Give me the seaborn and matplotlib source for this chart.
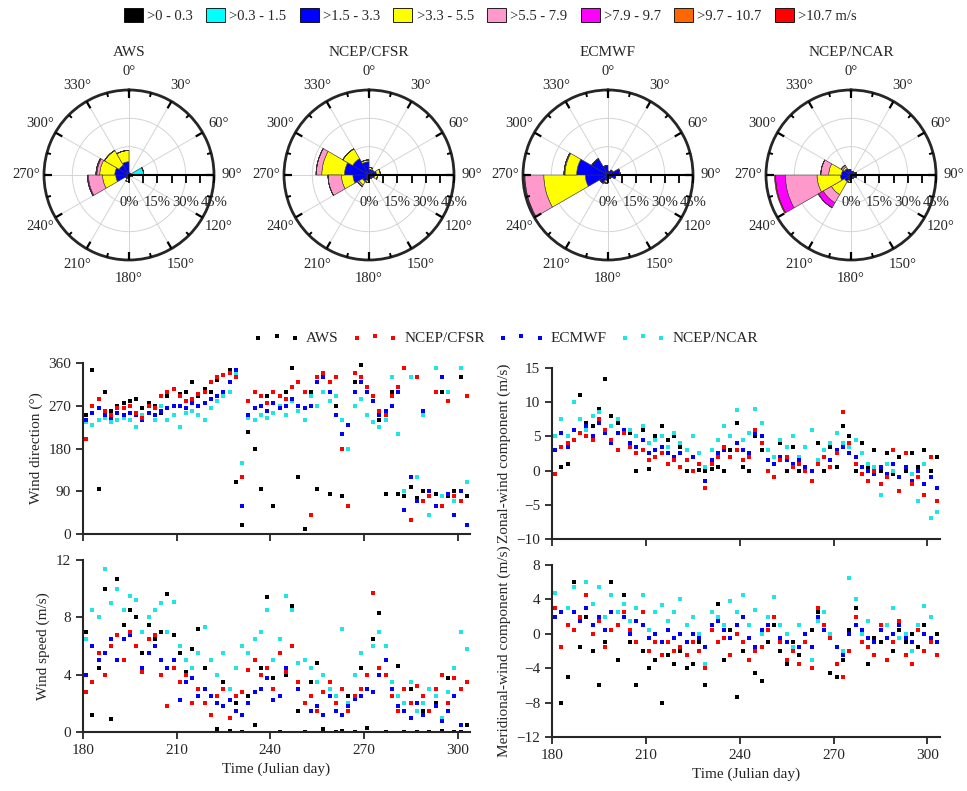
import numpy as np
import matplotlib
matplotlib.use("Agg")
import matplotlib.pyplot as plt
import matplotlib.transforms as mtransforms
from matplotlib.patches import Patch
import seaborn as sns

sns.set_style("ticks")
plt.rcParams["font.family"] = ["Liberation Serif", "DejaVu Serif"]
plt.rcParams["font.size"] = 11
plt.rcParams["axes.linewidth"] = 1.5

# ---- wind rose data (% of time per 30 deg sector and speed class) ----
class_labels = [">0 - 0.3", ">0.3 - 1.5", ">1.5 - 3.3", ">3.3 - 5.5",
                ">5.5 - 7.9", ">7.9 - 9.7", ">9.7 - 10.7", ">10.7 m/s"]
class_colors = ["#000000", "#00ffff", "#0000ff", "#ffff00",
                "#ff99cc", "#ff00ff", "#ff6600", "#ff0000"]
sector_deg = [15, 45, 75, 105, 135, 165, 195, 225, 255, 285, 315, 345]
rose_titles = ["AWS", "NCEP/CFSR", "ECMWF", "NCEP/NCAR"]

rose_aws = [[0.2, 0.3, 0.5], [0.2, 0.3, 0.5], [0.5, 7.3], [0.3, 1.5],
            [0.3, 0.7], [0.3, 0.7], [0.3, 0.7, 1.0, 1.5], [0.3, 0.7, 1.0],
            [0.3, 0.7, 6.0, 7.0, 7.5, 0.5], [0.3, 0.7, 6.5, 8.0, 1.5, 0.5],
            [0.3, 0.7, 5.0, 9.0], [0.2, 0.6, 6.2, 6.0]]
rose_cfsr = [[0.3, 0.5, 2.2, 1.0], [0.3, 0.5, 2.2], [0.3, 0.5, 3.2, 2.0],
             [0.3, 0.5, 2.2, 1.5], [0.3, 0.5, 1.2], [0.3, 0.5, 1.2],
             [0.3, 0.5, 2.2, 1.0], [0.3, 0.5, 3.2, 2.0, 1.0],
             [0.3, 0.5, 7.7, 6.1, 7.1], [0.3, 0.5, 12.2, 12.0, 3.0],
             [0.3, 0.5, 9.2, 6.0], [0.3, 0.5, 6.2, 1.0]]
rose_ecmwf = [[0.3, 0.5, 1.2], [0.3, 0.7, 2.0], [0.3, 1.0, 5.1], [0.3, 1.0, 2.7],
              [0.3, 0.5, 1.2], [0.3, 0.5, 1.2], [0.3, 0.5, 2.2, 1.0, 0.5],
              [0.3, 0.5, 4.2], [0.3, 0.5, 11.2, 22.0, 10.0, 0.3],
              [0.3, 0.5, 15.8, 6.2, 0.5], [0.3, 0.5, 9.2], [0.3, 0.5, 4.2]]
rose_ncar = [[0.3, 0.5, 1.2], [0.3, 0.5, 1.2], [0.3, 0.5, 2.2], [0.3, 0.5, 2.2],
             [0.3, 0.5, 1.2], [0.3, 0.5, 1.2], [0.3, 0.5, 2.2, 1.0],
             [0.3, 0.5, 3.2, 8.0, 5.0, 3.0],
             [0.3, 0.5, 4.8, 12.4, 16.8, 5.2, 0.0, 0.5],
             [0.3, 0.5, 4.2, 6.8, 4.2], [0.3, 0.5, 3.2, 1.0, 1.0], [0.3, 0.5, 2.2]]
rose_data = [rose_aws, rose_cfsr, rose_ecmwf, rose_ncar]
r_labels = [0, 15, 30, 45]
r_ticks = [0, 7.5, 15, 22.5, 30, 37.5, 45]

# ---- time series (Julian day) ----
days = [181, 183, 185, 187, 189, 191, 193, 195, 197, 199,
        201, 203, 205, 207, 209, 211, 213, 215, 217, 219,
        221, 223, 225, 227, 229, 231, 233, 235, 237, 239,
        241, 243, 245, 247, 249, 251, 253, 255, 257, 259,
        261, 263, 265, 267, 269, 271, 273, 275, 277, 279,
        281, 283, 285, 287, 289, 291, 293, 295, 297, 299,
        301, 303]

dir_aws = [250, 345, 95, 300, 260, 270, 275, 280, 285, 265,
           275, 270, 255, 290, 270, 295, 300, 320, 290, 305,
           300, 325, 335, 345, 110, 20, 215, 180, 95, 290,
           60, 270, 300, 350, 120, 10, 300, 95, 340, 85,
           270, 80, 60, 320, 355, 310, 280, 240, 85, 300,
           85, 80, 100, 75, 90, 80, 85, 300, 80, 90,
           330, 80]
dir_cfsr = [200, 270, 285, 260, 250, 265, 265, 270, 255, 245,
            270, 265, 290, 300, 305, 290, 280, 285, 295, 300,
            320, 330, 335, 340, 330, 120, 280, 300, 290, 275,
            300, 290, 285, 310, 320, 300, 40, 330, 340, 320,
            330, 180, 60, 340, 330, 310, 290, 260, 250, 290,
            310, 350, 30, 330, 70, 80, 300, 60, 280, 80,
            70, 290]
dir_ecmwf = [240, 255, 265, 250, 245, 255, 250, 255, 250, 240,
             255, 250, 260, 265, 270, 270, 265, 275, 270, 275,
             285, 290, 300, 320, 345, 60, 250, 265, 270, 260,
             275, 265, 270, 285, 270, 265, 270, 320, 330, 300,
             250, 210, 230, 300, 320, 300, 280, 250, 260, 270,
             300, 50, 120, 70, 260, 90, 60, 330, 85, 40,
             90, 20]
dir_ncar = [235, 230, 240, 245, 235, 240, 245, 240, 225, 250,
            255, 240, 270, 240, 250, 225, 255, 260, 250, 240,
            265, 280, 290, 300, 340, 150, 245, 240, 250, 245,
            255, 270, 250, 280, 260, 240, 290, 270, 300, 280,
            290, 240, 180, 270, 285, 250, 235, 225, 240, 330,
            210, 90, 330, 120, 250, 40, 350, 80, 300, 70,
            350, 110]

spd_aws = [7.0, 1.2, 4.5, 10.0, 0.9, 10.7, 7.5, 8.5, 8.0, 5.5,
           7.5, 6.5, 7.0, 9.6, 6.8, 5.5, 4.2, 5.8, 7.2, 4.5,
           5.0, 0.2, 3.5, 0.1, 2.0, 0.0, 2.5, 0.5, 4.5, 9.4,
           3.8, 0.0, 4.0, 8.8, 1.5, 0.0, 3.5, 4.8, 0.2, 2.5,
           0.0, 0.1, 2.5, 0.0, 4.5, 0.3, 6.5, 8.3, 0.0, 3.5,
           4.6, 0.0, 3.0, 0.0, 1.5, 0.0, 2.0, 0.1, 3.8, 0.0,
           0.0, 0.5]
spd_cfsr = [2.8, 3.5, 5.5, 4.0, 6.0, 6.8, 5.0, 7.0, 6.0, 4.2,
            6.5, 6.8, 4.0, 1.8, 4.5, 3.5, 4.0, 2.0, 3.0, 2.0,
            1.2, 2.5, 3.0, 1.0, 2.5, 2.8, 4.3, 5.0, 4.0, 4.5,
            3.0, 5.5, 4.2, 6.0, 3.5, 2.0, 2.5, 1.5, 2.8, 3.5,
            2.0, 3.0, 1.5, 2.5, 3.0, 4.0, 9.7, 4.5, 4.0, 2.5,
            1.5, 3.0, 2.0, 3.2, 2.5, 1.5, 3.0, 4.0, 2.0, 3.8,
            3.0, 3.5]
spd_ecmwf = [4.0, 6.0, 5.0, 5.5, 6.5, 5.0, 6.5, 6.8, 6.0, 4.5,
             5.5, 6.0, 5.0, 4.5, 5.0, 2.2, 3.5, 3.8, 2.5, 3.0,
             2.5, 2.0, 1.8, 2.2, 1.5, 1.2, 2.0, 2.8, 3.0, 3.8,
             2.2, 2.5, 4.5, 6.0, 3.0, 2.0, 1.5, 1.8, 1.2, 2.5,
             1.5, 1.2, 1.8, 2.3, 2.5, 3.0, 2.8, 4.0, 5.0, 3.0,
             1.8, 1.5, 1.0, 2.0, 1.2, 1.5, 1.8, 0.8, 1.5, 2.5,
             0.5, 3.5]
spd_ncar = [6.5, 8.5, 8.0, 11.4, 9.0, 10.0, 8.5, 9.5, 9.2, 7.0,
            8.0, 8.5, 9.0, 7.0, 9.1, 6.0, 5.0, 4.5, 5.5, 7.3,
            5.0, 4.0, 5.5, 3.0, 4.5, 6.0, 5.5, 6.5, 7.0, 8.5,
            5.0, 6.5, 9.5, 8.5, 4.8, 5.0, 4.5, 3.5, 4.0, 3.0,
            2.5, 7.2, 2.0, 4.0, 5.5, 4.0, 6.0, 7.0, 6.0, 3.5,
            2.5, 2.0, 3.5, 1.5, 2.0, 3.0, 2.5, 1.0, 2.8, 4.5,
            7.0, 5.8]

u_aws = [5.0, 0.5, 1.0, 6.0, 11.0, 7.0, 6.5, 9.0, 13.4, 8.0,
         7.0, 6.0, 5.5, 0.0, 6.0, 0.3, 5.0, 6.5, 4.5, 5.0,
         3.5, 0.0, 2.0, 0.1, 0.0, 0.2, 0.5, 0.0, 3.0, 7.0,
         0.5, 0.0, 5.0, 3.0, 0.0, 1.0, 4.0, 0.0, 3.5, 0.0,
         0.2, 0.0, 4.0, 0.0, 3.5, 0.5, 6.5, 5.0, 0.0, 4.0,
         0.5, 3.0, 0.0, 2.5, -0.5, 2.0, 0.0, 2.5, 0.5, 3.0,
         0.0, 2.0]
u_cfsr = [-0.5, 3.5, 4.0, 4.5, 5.5, 5.0, 4.5, 7.5, 6.0, 4.5,
          3.0, 5.5, 3.5, 2.5, 3.0, 1.5, 2.0, 2.5, 1.0, 1.5,
          0.5, 1.5, 0.0, 1.0, -2.5, 1.0, 2.0, 3.5, 2.0, 3.0,
          1.5, 2.0, 6.0, 4.0, 0.0, -1.0, 1.5, 2.0, 0.5, 1.0,
          0.0, -1.5, 1.0, 2.0, 0.5, 2.5, 8.5, 4.0, 1.0, -0.5,
          -1.5, 0.0, -2.0, -1.0, 3.0, -3.0, 2.5, -2.0, -1.0, -3.5,
          2.0, -4.5]
u_ecmwf = [3.0, 5.5, 3.5, 6.0, 5.5, 6.5, 5.0, 7.0, 5.5, 4.0,
           5.5, 6.0, 4.0, 3.5, 4.5, 2.5, 3.0, 3.5, 2.5, 2.0,
           2.5, 1.5, 2.0, 1.0, -1.5, 1.5, 2.5, 3.0, 2.0, 4.0,
           3.0, 2.5, 5.5, 5.0, 1.5, 1.0, 2.0, 1.5, 1.0, 1.5,
           0.5, 0.0, 1.0, 2.0, 1.5, 3.0, 3.5, 2.5, 2.0, 0.5,
           0.0, -0.5, 0.5, -0.5, 1.0, -1.0, 0.5, -1.5, 0.0, -2.0,
           -1.0, -2.5]
u_ncar = [5.0, 7.5, 5.0, 10.0, 7.5, 6.0, 8.0, 8.5, 6.0, 6.5,
          7.5, 5.5, 6.0, 5.0, 6.5, 4.0, 4.5, 5.0, 3.5, 5.5,
          4.0, 3.0, 5.0, 2.5, 0.5, 3.0, 4.5, 6.5, 5.0, 8.8,
          4.5, 5.5, 9.0, 7.0, 3.0, 2.0, 4.5, 3.5, 5.0, 2.0,
          3.5, 6.0, 1.5, 3.0, 4.0, 5.5, 4.0, 3.5, 4.5, 2.5,
          1.0, 0.5, -3.5, 1.0, 0.0, -1.0, 2.5, -0.5, -4.5, 1.0,
          -7.0, -6.0]

v_aws = [2.0, -8.0, -5.0, 6.0, -1.5, 2.0, -2.0, -6.0, -1.0, 6.0,
         -3.0, 4.5, -1.0, -6.0, -2.0, -4.0, -3.0, -8.0, -2.5, -3.5,
         -2.0, -4.0, -3.5, -1.0, -6.0, 1.0, 3.5, -3.0, 0.5, -7.3,
         -2.0, -3.0, -4.5, -5.5, -1.0, 1.0, -2.0, -3.5, -1.0, -2.5,
         -1.0, 0.5, 2.5, 1.0, -4.5, -5.0, -3.0, 0.5, 3.0, 0.0,
         -3.5, -0.5, -1.0, 1.0, -2.0, 0.5, -1.0, 0.0, -1.5, 1.0,
         -1.0, 0.0]
v_cfsr = [3.0, -1.5, 1.0, 0.5, 2.0, 4.5, 0.0, 1.5, -1.5, 0.5,
          1.0, 2.5, 0.5, -1.0, 2.5, -2.0, -1.0, -2.5, -1.0, -2.0,
          -1.5, -2.5, -1.0, -2.0, -4.0, 0.5, -1.0, -0.5, -2.5, 0.0,
          -1.0, -3.0, -2.0, -1.5, 0.5, 2.0, -1.0, -3.0, -2.0, -3.5,
          -1.0, -4.0, 3.0, 1.0, -0.5, -3.5, -5.0, -2.0, 2.0, -1.0,
          -1.5, -2.5, 1.0, -3.0, -1.0, 1.5, -2.5, -3.5, 0.5, -2.0,
          -1.0, -2.5]
v_ecmwf = [2.0, 2.5, 1.0, 2.5, 1.5, 3.0, 1.0, 2.0, 0.5, 2.5,
           1.0, 2.0, 0.0, 1.5, 1.0, -0.5, 0.0, -1.0, 0.5, -0.5,
           0.0, -1.0, 0.0, -0.5, -1.5, 1.0, 1.5, 0.5, -0.5, 1.0,
           2.0, -0.5, -1.5, 0.5, 1.0, 2.0, -0.5, -1.0, -2.0, -1.5,
           0.0, -1.5, 2.0, 0.5, -0.5, -1.5, -2.5, 0.0, 1.0, 0.5,
           -0.5, -1.0, 0.5, -0.5, 0.0, 1.0, -0.5, -1.0, 0.5, 0.0,
           -0.5, -1.0]
v_ncar = [4.8, 2.5, 3.0, 5.5, 2.0, 6.0, 3.5, 5.5, 2.0, 4.5,
          2.5, 3.5, 1.5, 3.0, 4.5, 0.5, 2.5, 3.3, 1.5, 2.5,
          4.0, 1.0, 2.0, 0.0, -3.5, 2.5, 2.0, 1.0, 3.8, 2.5,
          4.5, 1.0, 2.8, 0.0, 2.0, 4.3, 1.0, 0.0, -1.5, 1.0,
          -1.0, -3.0, 1.5, 2.5, 0.0, -1.5, -2.0, 6.5, 4.0, 0.0,
          1.5, -1.0, 0.5, 1.0, 3.0, -0.5, 0.0, -2.0, 1.0, 3.2,
          2.0, -2.5]

series_names = ["AWS", "NCEP/CFSR", "ECMWF", "NCEP/NCAR"]
series_colors = {"AWS": "black", "NCEP/CFSR": "red", "ECMWF": "blue", "NCEP/NCAR": "#1ee6e6"}
draw_order = ["AWS", "NCEP/NCAR", "ECMWF", "NCEP/CFSR"]

W, H = 967, 791
fig = plt.figure(figsize=(W / 100, H / 100), dpi=100)


def px_axes(x0, y0, x1, y1, **kw):
    return fig.add_axes([x0 / W, 1 - y1 / H, (x1 - x0) / W, (y1 - y0) / H], **kw)


# ---- wind roses ----
rose_cx = [129, 369, 608, 851]
R = 85
width = np.deg2rad(30)
theta = np.deg2rad(sector_deg)
major_t = np.deg2rad(np.arange(0, 360, 30))
minor_t = np.deg2rad(np.arange(15, 360, 30))
for cx, title, table in zip(rose_cx, rose_titles, rose_data):
    ax = px_axes(cx - R, 175 - R, cx + R, 175 + R, projection="polar")
    ax.set_theta_zero_location("N")
    ax.set_theta_direction(-1)
    ax.set_axisbelow(True)
    rows = np.array([row + [0] * (8 - len(row)) for row in table])
    bottom = np.zeros(len(sector_deg))
    for k in range(8):
        ax.bar(theta, rows[:, k], width=width, bottom=bottom, color=class_colors[k],
               edgecolor="#333333", linewidth=0.4, zorder=3)
        bottom += rows[:, k]
    ax.set_ylim(0, 45)
    ax.set_yticks([15, 30])
    ax.set_yticklabels([])
    ax.set_xticks(major_t)
    ax.set_xticklabels([f"{d}°" for d in range(0, 360, 30)], fontsize=10.5)
    ax.tick_params(axis="x", length=0, pad=6)
    ax.grid(True, color="#d4d4d4", linewidth=0.7)
    ax.spines["polar"].set_linewidth(2)
    # inward tick marks on the outer circle
    ax.vlines(major_t, 45 - 4.2, 45, color="black", lw=1.6, zorder=4)
    ax.vlines(minor_t, 45 - 2.2, 45, color="black", lw=1.4, zorder=4)
    ax.plot([np.pi / 2, np.pi / 2], [0, 45], color="black", lw=1.5, zorder=4)
    ax.plot([np.pi / 2] * len(r_ticks), r_ticks, ls="none", marker=3, ms=6,
            mew=1.3, color="black", zorder=4, clip_on=False)
    off = mtransforms.ScaledTranslation(0, -0.28, fig.dpi_scale_trans)
    for r in r_labels:
        ax.text(np.pi / 2, r, f"{r}%", transform=ax.transData + off,
                ha="center", va="center", fontsize=10.5)
    ax.text(0.5, 1 + 38 / (2 * R), title, transform=ax.transAxes,
            ha="center", va="center", fontsize=11)

rose_handles = [Patch(facecolor=c, edgecolor="black", linewidth=0.6) for c in class_colors]
fig.legend(rose_handles, class_labels, loc="center", bbox_to_anchor=(0.507, 0.981),
           ncol=8, frameon=False, handlelength=1.3, handleheight=1.1,
           handletextpad=0.3, columnspacing=0.9, fontsize=10.5)

# ---- time series panels ----
panels = [
    (px_axes(83, 363, 470, 534), {"AWS": dir_aws, "NCEP/CFSR": dir_cfsr, "ECMWF": dir_ecmwf, "NCEP/NCAR": dir_ncar},
     (0, 360), [0, 90, 180, 270, 360], "Wind direction (°)", False),
    (px_axes(83, 560, 470, 732), {"AWS": spd_aws, "NCEP/CFSR": spd_cfsr, "ECMWF": spd_ecmwf, "NCEP/NCAR": spd_ncar},
     (0, 12), [0, 4, 8, 12], "Wind speed (m/s)", True),
    (px_axes(552, 368, 940, 539), {"AWS": u_aws, "NCEP/CFSR": u_cfsr, "ECMWF": u_ecmwf, "NCEP/NCAR": u_ncar},
     (-10, 15), [-10, -5, 0, 5, 10, 15], "Zonal-wind component (m/s)", False),
    (px_axes(552, 565, 940, 737), {"AWS": v_aws, "NCEP/CFSR": v_cfsr, "ECMWF": v_ecmwf, "NCEP/NCAR": v_ncar},
     (-12, 8), [-12, -8, -4, 0, 4, 8], "Meridional-wind component (m/s)", True),
]

for ax, vals, ylim, yticks, ylabel, show_x in panels:
    for name in draw_order:
        sns.scatterplot(x=days, y=vals[name], color=series_colors[name], marker="s",
                        s=7, linewidth=0, legend=False, label=name, ax=ax)
    ax.set_xlim(180, 304)
    ax.set_ylim(*ylim)
    ax.set_xticks([180, 210, 240, 270, 300])
    ax.set_yticks(yticks)
    ax.set_ylabel(ylabel, fontsize=11)
    if show_x:
        ax.set_xlabel("Time (Julian day)", fontsize=11)
    else:
        ax.set_xticklabels([])
    ax.tick_params(direction="out", length=5, width=1.3, labelsize=11)
    sns.despine(ax=ax)

h, l = panels[0][0].get_legend_handles_labels()
lookup = dict(zip(l, h))
fig.legend([lookup[n] for n in series_names], series_names, loc="center",
           bbox_to_anchor=(0.523, 0.573), ncol=4, frameon=False, scatterpoints=3,
           handlelength=3.0, markerscale=1.1, handletextpad=0.4, columnspacing=0.9,
           fontsize=11)

fig.savefig("out.png", dpi=100)
